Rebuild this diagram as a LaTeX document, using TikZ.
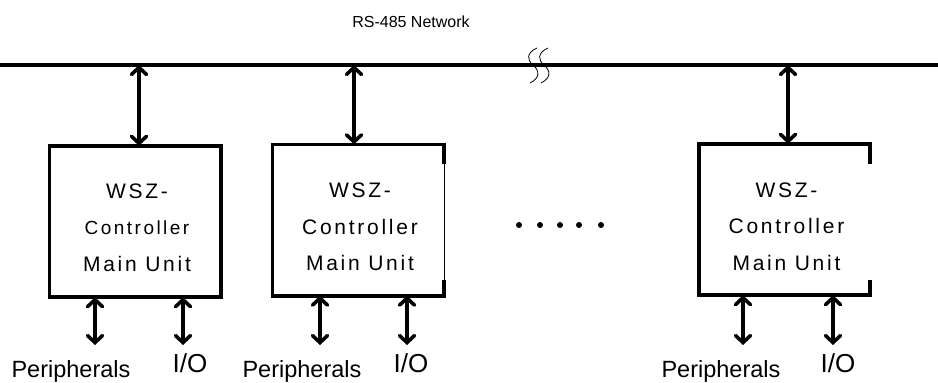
\documentclass[tikz,border=0pt]{standalone}
\usepackage{fontspec}
\setmainfont{Liberation Sans}
\newfontfamily\spacedfont[LetterSpace=13]{Liberation Sans}
\usetikzlibrary{arrows.meta,positioning}

\begin{document}
\begin{tikzpicture}[
  x=1pt, y=-1pt,
  bus/.style={line width=3.6pt},
  unit/.style={minimum width=171pt, minimum height=151pt, inner sep=0pt},
  unittext/.style={align=center, font=\spacedfont\fontsize{21}{36.5}\selectfont},
  frame/.style={line width=3.6pt, line cap=rect},
  dblarr/.style={line width=3.6pt,
    {Straight Barb[length=7pt,width=15pt,line cap=round]}-{Straight Barb[length=7pt,width=15pt,line cap=round]}},
  lbl/.style={font=\fontsize{23.5}{26}\selectfont, anchor=base},
  iolbl/.style={font=\fontsize{26}{28}\selectfont, anchor=base},
  brk/.style={line width=0.8pt}
]
\useasboundingbox (0,0) rectangle (938,383);

% network bus
\node[font=\fontsize{16}{18}\selectfont, anchor=base] (net) at (411,27) {RS-485 Network};
\coordinate (busL) at (0,65);
\coordinate (busR) at (938,65);
\draw[bus] (busL) -- (busR);
\foreach \dx in {0,11}
  \draw[brk, xshift=\dx pt] (537,48) .. controls (526,53) and (527,60) .. (533,65)
    .. controls (540,71) and (540,78) .. (530,83);

% controller units
\node[unit] (unit1) at (135,221.5) {};
\node[unit] (unit2) at (358,220) {};
\node[unit] (unit3) at (784.5,219.5) {};

\node[unittext] (txt1) at ([xshift=2pt,yshift=-6pt]unit1.center)
  {WSZ-\\{\fontsize{19}{36.5}\selectfont Controller}\\Main Unit};
\node[unittext] (txt2) at ([xshift=2pt,yshift=-7pt]unit2.center) {WSZ-\\Controller\\Main Unit};
\node[unittext] (txt3) at ([xshift=2pt,yshift=-7pt]unit3.center) {WSZ-\\Controller\\Main Unit};

\draw[frame] (unit1.north west) rectangle (unit1.south east);

\draw[frame] (unit2.north east) -- (unit2.north west) -- (unit2.south west) -- (unit2.south east);
\draw[frame] (unit2.north east) -- ++(0,18);
\draw[frame] (unit2.south east) -- ++(0,-14);
\draw[thin] (unit2.north east) -- (unit2.south east);

\draw[frame] (unit3.north east) -- (unit3.north west) -- (unit3.south west) -- (unit3.south east);
\draw[frame] (unit3.north east) -- ++(0,18);
\draw[frame] (unit3.south east) -- ++(0,-13);

% links to the bus
\coordinate (tap1) at (139,65);
\coordinate (tap2) at (354,65);
\coordinate (tap3) at (788,65);
\draw[dblarr] (tap1) -- (tap1 |- unit1.north);
\draw[dblarr] (tap2) -- (tap2 |- unit2.north);
\draw[dblarr] (tap3) -- (tap3 |- unit3.north);

\foreach \x in {519,540,560,579,601}
  \fill (\x,225) circle (3pt);

% peripherals and I/O
\coordinate (per1end) at (95,345);
\coordinate (io1end) at (183,345);
\coordinate (per2end) at (320,345);
\coordinate (io2end) at (407,345);
\coordinate (per3end) at (743,345);
\coordinate (io3end) at (833,345);

\draw[dblarr] (per1end |- unit1.south) -- (per1end);
\draw[dblarr] (io1end |- unit1.south) -- (io1end);
\draw[dblarr] (per2end |- unit2.south) -- (per2end);
\draw[dblarr] (io2end |- unit2.south) -- (io2end);
\draw[dblarr] (per3end |- unit3.south) -- (per3end);
\draw[dblarr] (io3end |- unit3.south) -- (io3end);

\node[lbl] (per1) at (71,377) {Peripherals};
\node[iolbl] (io1) at (190,372) {I/O};
\node[lbl] (per2) at (302,377) {Peripherals};
\node[iolbl] (io2) at (411,372) {I/O};
\node[lbl] (per3) at (721,377) {Peripherals};
\node[iolbl] (io3) at (838,372) {I/O};
\end{tikzpicture}
\end{document}
